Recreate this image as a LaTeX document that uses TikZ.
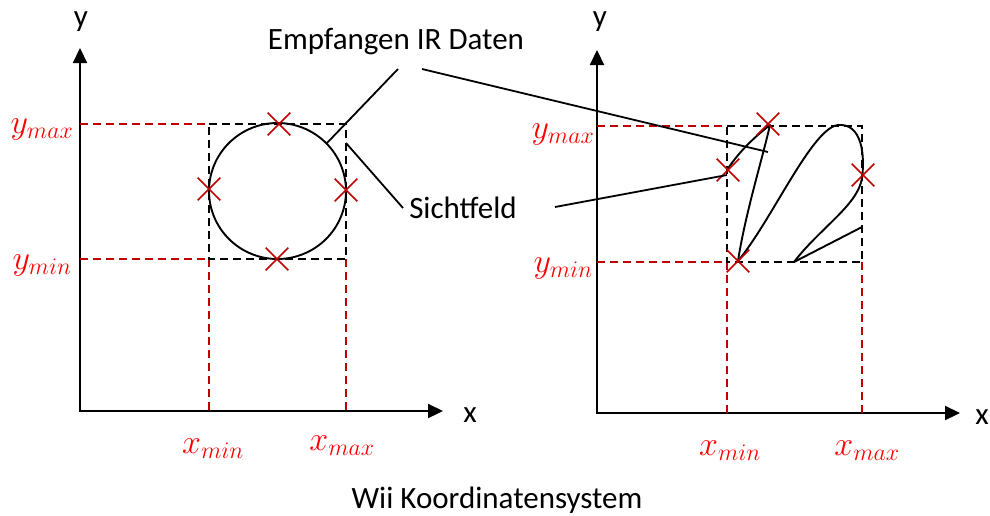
\documentclass[tikz,border=0pt]{standalone}
\usepackage{fix-cm}
\usepackage{fontspec}
\setmainfont{Carlito}
\usetikzlibrary{arrows.meta,shapes.misc}
\definecolor{dred}{RGB}{192,0,0}
\definecolor{lred}{RGB}{255,0,0}
\begin{document}
\begin{tikzpicture}[x=1pt,y=-1pt,
  axis/.style={line width=2.2pt,-{Triangle[length=15pt,width=14pt]}},
  rdash/.style={dred,line width=1.8pt,dash pattern=on 8pt off 5pt},
  bdash/.style={black,line width=1.8pt,dash pattern=on 8pt off 5pt},
  curve/.style={line width=1.9pt},
  ptr/.style={line width=1.8pt},
  lbl/.style={font=\fontsize{31}{34}\selectfont,inner sep=0pt},
  mlbl/.style={text=lred,font=\fontsize{34}{38}\selectfont,inner sep=0pt},
  xmark/.style={cross out,draw=dred,line width=1.6pt,minimum size=21pt,inner sep=0pt}]
\useasboundingbox (0,0) rectangle (990,515);
% ---------- left plot ----------
\coordinate (lo) at (80,411);
\coordinate (lytip) at (80,48);
\coordinate (lxtip) at (443,411);
\draw[axis] (lo) -- (lytip);
\draw[axis] ([xshift=-1pt]lo) -- (lxtip);
\node[lbl] (ly) at (81,22) {y};
\node[lbl] (lx) at (470,415) {x};
% box and guides
\coordinate (lA) at (209,124);
\coordinate (lB) at (346,124);
\coordinate (lC) at (346,259);
\coordinate (lD) at (209,259);
\draw[rdash] (80,124) -- (lA);
\draw[rdash] (80,259) -- (lD);
\draw[rdash] (lD) -- (209,411);
\draw[rdash] (lC) -- (346,411);
\draw[bdash] (lA) -- (lB) -- (lC) -- (lD) -- cycle;
\draw[curve] (277.5,191) ellipse [x radius=68.5, y radius=68];
\node[xmark] (lc1) at (279,124) {};
\node[xmark] (lc2) at (209,189) {};
\node[xmark] (lc3) at (346,190) {};
\node[xmark] (lc4) at (277,259) {};
\node[mlbl] (lymax) at (42,129) {$y_{max}$};
\node[mlbl] (lymin) at (42,265) {$y_{min}$};
\node[mlbl] (lxmin) at (213,449) {$x_{min}$};
\node[mlbl] (lxmax) at (342,446) {$x_{max}$};
% ---------- right plot ----------
\coordinate (ro) at (597,413);
\coordinate (rytip) at (597,50);
\coordinate (rxtip) at (960,413);
\draw[axis] (ro) -- (rytip);
\draw[axis] ([xshift=-1pt]ro) -- (rxtip);
\node[lbl] (ry) at (600,22) {y};
\node[lbl] (rx) at (982,417) {x};
\coordinate (rA) at (727,126);
\coordinate (rB) at (862,126);
\coordinate (rC) at (862,262);
\coordinate (rD) at (727,262);
\draw[rdash] (597,126) -- (rA);
\draw[rdash] (597,262) -- (rD);
\draw[rdash] (rD) -- (727,413);
\draw[rdash] (rC) -- (862,413);
\draw[bdash] (rA) -- (rB) -- (rC) -- (rD) -- cycle;
% received IR data shapes
\draw[curve,line join=round] (738,261) .. controls (745,215) and (762,160) .. (770,125)
   .. controls (757,135) and (740,150) .. (727,170);
\draw[curve,line join=round] (738,261) .. controls (772,220) and (812,128) .. (838,125)
   .. controls (862,123) and (865,155) .. (862,178)
   .. controls (858,205) and (820,228) .. (794,262) -- (862,227);
\node[xmark] (rc1) at (768,124) {};
\node[xmark] (rc2) at (728,170) {};
\node[xmark] (rc3) at (863,175) {};
\node[xmark] (rc4) at (738,261) {};
\node[mlbl] (rymax) at (563,134) {$y_{max}$};
\node[mlbl] (rymin) at (563,268) {$y_{min}$};
\node[mlbl] (rxmin) at (730,451) {$x_{min}$};
\node[mlbl] (rxmax) at (867,451) {$x_{max}$};
% ---------- labels and pointers ----------
\node[lbl] (emp) at (396,42) {Empfangen IR Daten};
\node[lbl] (sicht) at (463,208) {Sichtfeld};
\node[lbl] (cap) at (497,500) {Wii Koordinatensystem};
\coordinate (e1) at (398,69);
\coordinate (e2) at (422,69);
\coordinate (s1) at (403,208);
\coordinate (s2) at (555,207);
\coordinate (lcirc) at (327,143);
\coordinate (rlobe) at (768,152);
\coordinate (lbox) at (346,143);
\coordinate (rbox) at (727,175);
\draw[ptr] (e1) -- (lcirc);
\draw[ptr] (e2) -- (rlobe);
\draw[ptr] (s1) -- (lbox);
\draw[ptr] (s2) -- (rbox);
\end{tikzpicture}
\end{document}
